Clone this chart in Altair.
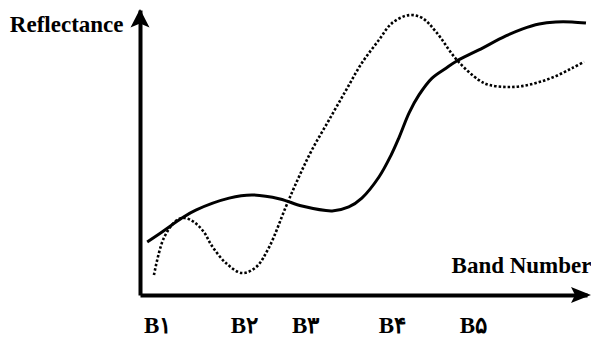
import altair as alt
import pandas as pd

# Solid curve (band position, reflectance 0-100)
solid_x = [1.6, 4.9, 9.3, 12.4, 19.8, 24.9, 31.1, 36.0, 42.7, 46.4, 49.3, 53.1,
           55.8, 57.6, 59.8, 62.0, 64.9, 68.0, 70.4, 75.3, 81.3, 84.9, 88.7,
           92.4, 96.0, 99.1]
solid_y = [18.6, 22.1, 27.0, 29.8, 34.0, 35.1, 33.7, 31.2, 29.5, 30.9, 34.0, 41.4,
           49.1, 55.4, 63.9, 70.2, 76.1, 79.6, 82.1, 86.0, 90.9, 93.3, 95.1,
           95.8, 95.8, 95.4]

# Dotted curve
dotted_x = [3.1, 5.3, 8.2, 10.0, 12.0, 14.2, 16.0, 19.1, 22.7, 25.8, 28.7, 32.4,
            35.3, 38.2, 42.0, 45.8, 49.3, 53.1, 56.0, 59.8, 62.7, 65.8, 70.4,
            75.3, 77.6, 81.3, 84.9, 88.7, 92.4, 96.0, 98.7]
dotted_y = [7.0, 20.0, 26.3, 27.0, 25.6, 22.1, 17.2, 11.2, 7.7, 9.8, 16.8, 30.9,
            41.4, 50.9, 61.4, 71.9, 81.4, 89.5, 95.4, 98.2, 97.2, 92.3, 82.5,
            75.4, 73.7, 73.0, 73.3, 74.7, 76.8, 79.6, 81.8]

# Band tick positions and labels
band_pos = [3.8, 23.1, 36.7, 56.0, 74.0]
band_labels = ["B۱", "B۲", "B۳", "B۴", "B۵"]

# Arrow heads at axis ends
arrow_x_pos = [98.0]
arrow_y_pos = [96.8]

FONT = "Liberation Serif"
FS = 23
PLOT_W = 447
PLOT_H = 285

solid_df = pd.DataFrame({"x": solid_x, "y": solid_y})
dotted_df = pd.DataFrame({"x": dotted_x, "y": dotted_y})
arrow_r_df = pd.DataFrame({"x": arrow_x_pos, "y": [0]})
arrow_u_df = pd.DataFrame({"x": [0], "y": arrow_y_pos})

label_map = "{" + ",".join(f"'{p:g}':'{l}'" for p, l in zip(band_pos, band_labels)) + "}"

x_enc = alt.X(
    "x:Q",
    scale=alt.Scale(domain=[0, 99.33], nice=False, zero=False),
    axis=alt.Axis(
        values=band_pos,
        labelExpr=f"{label_map}[datum.value]",
        ticks=False,
        grid=False,
        domain=True,
        domainColor="black",
        domainWidth=4,
        labelFont=FONT,
        labelFontWeight="bold",
        labelFontSize=FS,
        labelColor="black",
        labelBaseline="alphabetic",
        labelPadding=37,
        labelOverlap=False,
        labelFlush=False,
        title="Band Number",
        titleFont=FONT,
        titleFontWeight="bold",
        titleFontSize=FS,
        titleColor="black",
        titleAlign="right",
        titleBaseline="alphabetic",
        titleX=PLOT_W + 4,
        titleY=-23,
    ),
)
y_enc = alt.Y(
    "y:Q",
    scale=alt.Scale(domain=[0, 100], nice=False, zero=False),
    axis=alt.Axis(
        labels=False,
        ticks=False,
        grid=False,
        domain=True,
        domainColor="black",
        domainWidth=4,
        title="Reflectance",
        titleFont=FONT,
        titleFontWeight="bold",
        titleFontSize=FS,
        titleColor="black",
        titleAngle=0,
        titleAlign="right",
        titleBaseline="alphabetic",
        titleX=-17,
        titleY=21,
    ),
)

solid = alt.Chart(solid_df).mark_line(
    color="black", strokeWidth=3, interpolate="catmull-rom"
).encode(x=x_enc, y=y_enc)

dotted = alt.Chart(dotted_df).mark_line(
    color="black", strokeWidth=2.6, strokeDash=[2.5, 2], interpolate="catmull-rom"
).encode(x=x_enc, y=y_enc)

arrow_r = alt.Chart(arrow_r_df).mark_point(
    shape="M1,0 L-1,-0.8 L-0.6,0 L-1,0.8 Z",
    size=400, filled=True, color="black", opacity=1, strokeWidth=0
).encode(x=x_enc, y=y_enc)

arrow_u = alt.Chart(arrow_u_df).mark_point(
    shape="M0,-1 L0.95,0.85 L0,0.45 L-0.95,0.85 Z",
    size=400, filled=True, color="black", opacity=1, strokeWidth=0
).encode(x=x_enc, y=y_enc)

chart = alt.layer(solid, dotted, arrow_r, arrow_u).properties(
    width=PLOT_W,
    height=PLOT_H,
    autosize=alt.AutoSizeParams(type="none"),
    padding={"left": 132, "top": 2, "right": 4, "bottom": 45},
    background="white",
).configure_view(stroke=None)

chart.save("out.html", embed_options={"renderer": "svg", "actions": False})
